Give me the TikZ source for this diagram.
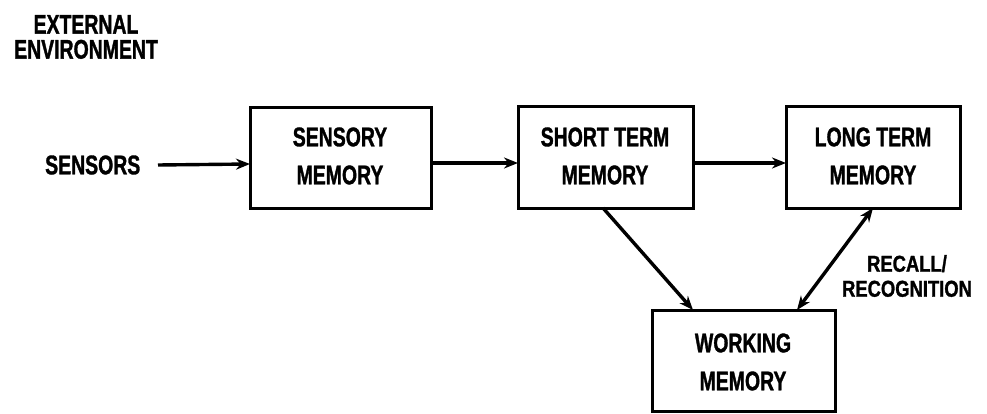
\documentclass[tikz,border=0pt]{standalone}
\usepackage{fontspec}
\setmainfont{Liberation Sans}
\newfontfamily\boxfont{Liberation Sans Bold}[FakeStretch=0.72,FakeBold=1.2]
\newfontfamily\notefont{Liberation Sans Bold}[FakeStretch=0.8,FakeBold=1.2]
\usetikzlibrary{arrows.meta}
\begin{document}
\begin{tikzpicture}[x=1pt,y=-1pt,
  lbl/.style={font=\boxfont\fontsize{27}{38}\selectfont,align=center,inner sep=0pt},
  envlbl/.style={font=\boxfont\fontsize{27}{25}\selectfont,align=center,inner sep=0pt},
  small/.style={font=\notefont\fontsize{23}{25}\selectfont,align=center,inner sep=0pt},
  box/.style={draw,line width=3pt},
  conn/.style={line width=3.4pt,-{Stealth[length=14pt,width=11pt]}},
  biconn/.style={line width=3.4pt,{Stealth[length=14pt,width=11pt]}-{Stealth[length=14pt,width=11pt]}}]
\useasboundingbox (0,0) rectangle (987,414);

% memory blocks
\draw[box] (250,108) rectangle (431,208);
\draw[box] (518,107) rectangle (693,208);
\draw[box] (786,107) rectangle (960,208);
\draw[box] (652,310) rectangle (835,411);

\node[lbl] (sm)  at (340,156) {SENSORY\\MEMORY};
\node[lbl] (stm) at (605,156) {SHORT TERM\\MEMORY};
\node[lbl] (ltm) at (873,156) {LONG TERM\\MEMORY};
\node[lbl] (wm)  at (743,362) {WORKING\\MEMORY};

\coordinate (smW)  at (250,164);
\coordinate (smE)  at (431,163);
\coordinate (stmW) at (518,163);
\coordinate (stmE) at (693,163);
\coordinate (ltmW) at (786,163);
\coordinate (stmS) at (603,208);
\coordinate (ltmS) at (873,208);
\coordinate (wmA)  at (693,310);
\coordinate (wmB)  at (797,310);

% outside labels
\node[envlbl] (env) at (86,37) {EXTERNAL\\ENVIRONMENT};
\node[lbl,anchor=west] (sens) at (45,165) {SENSORS};
\node[small] (rec) at (907,276) {RECALL/\\RECOGNITION};
\coordinate (sensE) at (158,165);

% flow
\draw[conn] (sensE) -- (smW);
\draw[conn] (smE) -- (stmW);
\draw[conn] (stmE) -- (ltmW);
\draw[conn] (stmS) -- (wmA);
\draw[biconn] (ltmS) -- (wmB);
\end{tikzpicture}
\end{document}
